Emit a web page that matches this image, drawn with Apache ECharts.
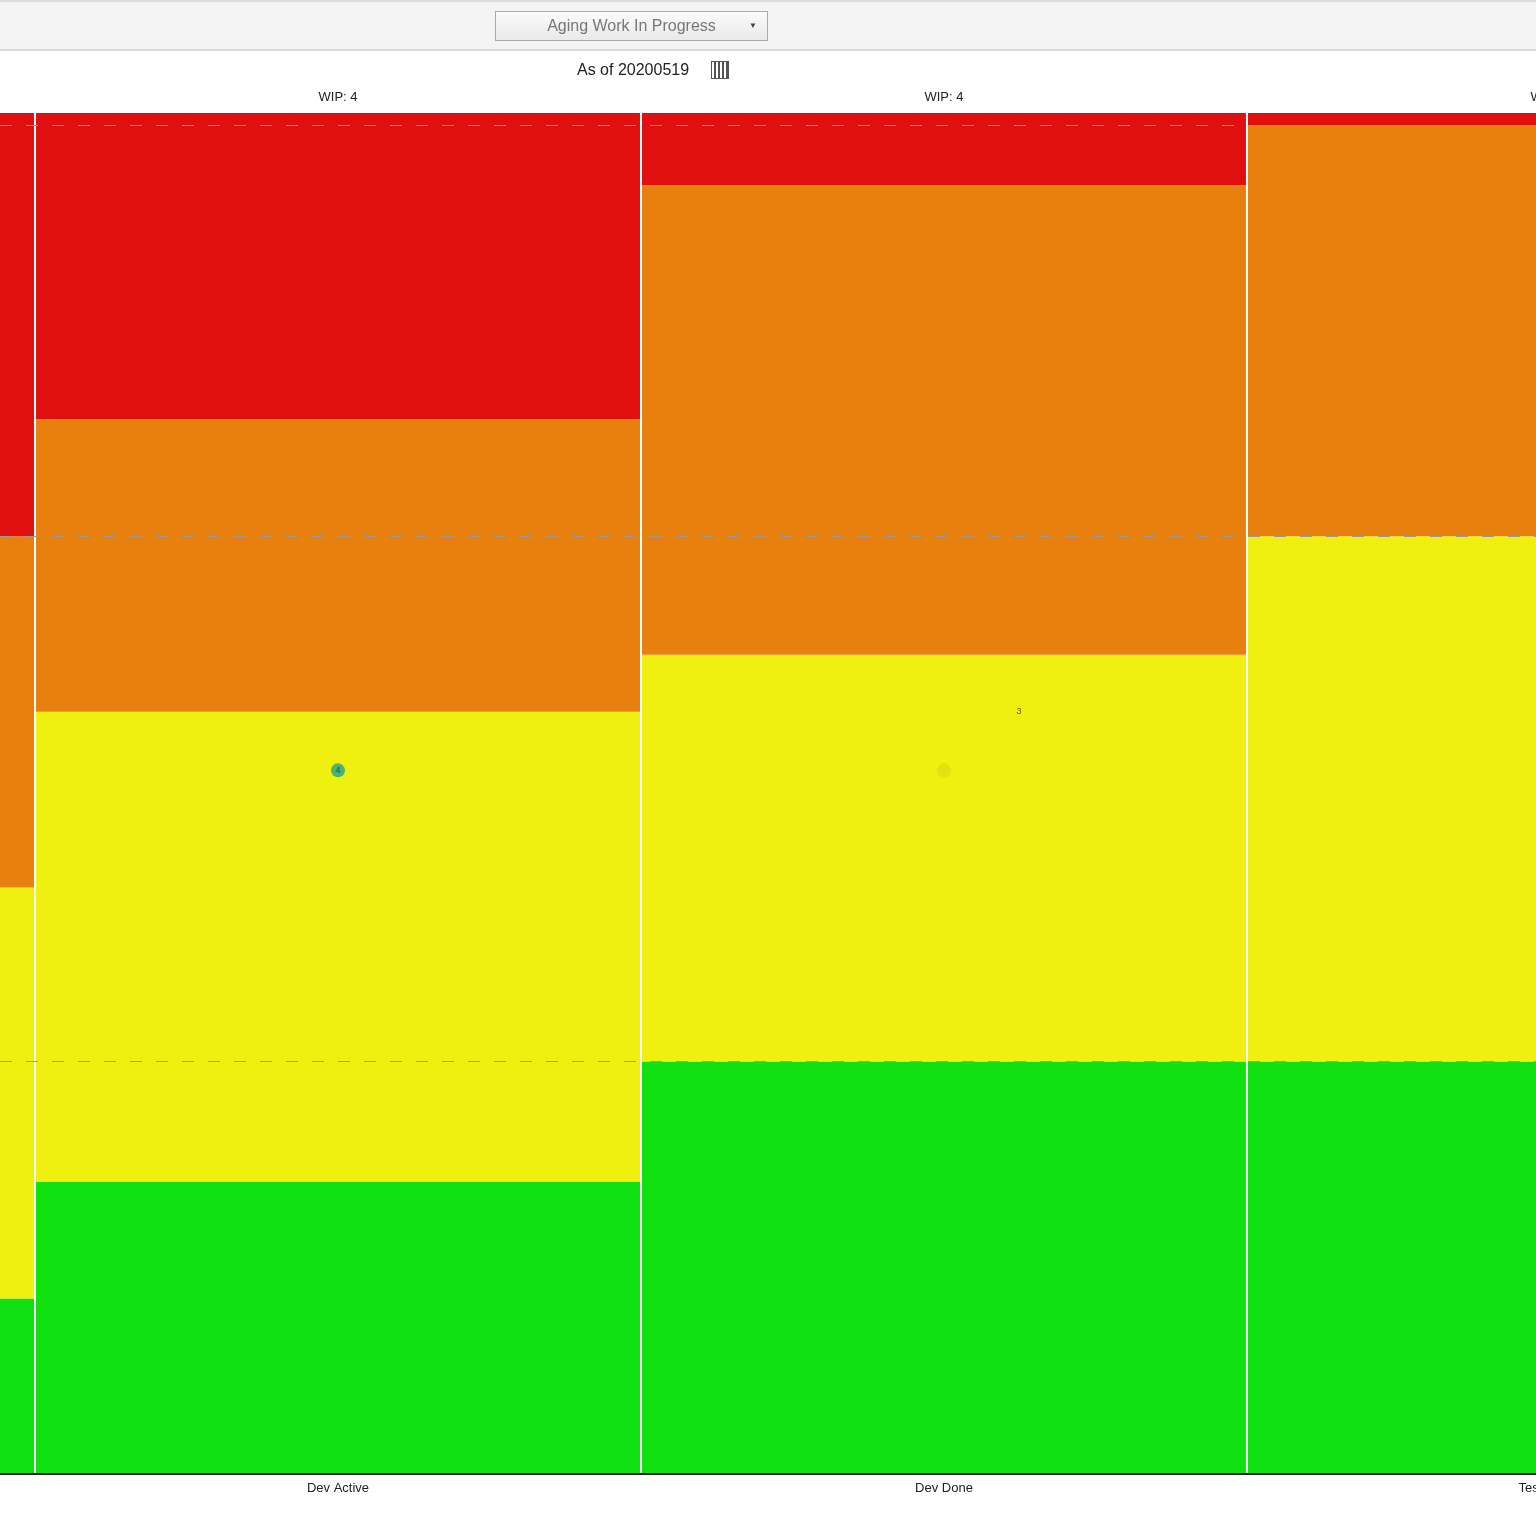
<!DOCTYPE html>
<html><head><meta charset="utf-8">
<script src="https://cdn.jsdelivr.net/npm/echarts@6/dist/echarts.min.js"></script>
<style>
body{margin:0;background:#fff;font-family:Arial,"Liberation Sans",sans-serif;}
#bar{position:absolute;left:0;top:0;width:1536px;height:47px;background:#f4f4f4;border-top:2px solid #ddd;border-bottom:2px solid #d8d8d8;}
#btn{position:absolute;left:495px;top:9px;width:271px;height:28px;border:1px solid #aaa;background:linear-gradient(#fbfbfb,#e9e9e9);color:#777;font-size:16px;line-height:28px;text-align:center;}
#btn span{position:absolute;right:10px;font-size:8px;color:#444;}
#asof{position:absolute;left:577px;top:61px;font-size:16px;color:#222;}
#cal{position:absolute;left:711px;top:61px;width:18px;height:18px;border:1px solid #555;box-sizing:border-box;background:repeating-linear-gradient(90deg,#fff 0 2px,#555 2px 4px);}
#line31{position:absolute;left:0;top:0;width:1536px;height:1536px;}
</style></head>
<body>
<div id="line31"></div>
<div id="bar"><div id="btn">Aging Work In Progress<span>▼</span></div></div>
<div id="asof">As of 20200519</div><div id="cal"></div>
<script>
// workflow columns (first and last are only partly visible)
var categories = ['Analysis', 'Dev Active', 'Dev Done', 'Test Active'];
var wip = [4, 4, 4, 4];
// top of each zone per column (percent of axis height)
var greenTop  = [12.9, 21.5, 30.3, 30.3];
var yellowTop = [43.1, 56.0, 60.2, 68.9];
var orangeTop = [68.9, 77.5, 94.7, 99.1];
var redTop    = [100, 100, 100, 100];
// percentile lines
var percentiles = [30.3, 68.9, 99.1];
// work items: [column position, age, count label, colour]
var items = [[1, 51.7, '4', '#1fa58a'], [2, 51.7, '', '#dede10'], [2.124, 56.0, '3', 'none']];

var zoneColors = ['#10e010', '#f0f010', '#e8800f', '#e01010'];
var zones = [];
categories.forEach(function (c, i) {
  var tops = [greenTop[i], yellowTop[i], orangeTop[i], redTop[i]];
  var lo = 0;
  tops.forEach(function (t, k) { zones.push([i, lo, t, k]); lo = t; });
});

var myChart31 = echarts.init(document.getElementById('line31'));
var option31 = {
  animation: false,
  grid: {left: 0, right: 0, top: 113, bottom: 62},
  xAxis: {type: 'value', min: 0.4422, max: 2.977, show: false},
  yAxis: {type: 'value', min: 0, max: 100, show: false},
  series: [{
    type: 'custom',
    data: zones,
    renderItem: function (params, api) {
      var i = api.value(0);
      var a = api.coord([i - 0.5, api.value(2)]);
      var b = api.coord([i + 0.5, api.value(1)]);
      return {type: 'rect', shape: {x: a[0] + 1, y: a[1], width: b[0] - a[0] - 2, height: b[1] - a[1]},
        style: {fill: zoneColors[api.value(3)]}};
    },
    markLine: {
      silent: true, symbol: 'none', label: {show: false},
      lineStyle: {color: '#999', type: [12, 14], width: 1.2},
      data: percentiles.map(function (p) { return {yAxis: p}; })
    }
  }, {
    type: 'custom',
    data: categories.map(function (c, i) { return [i]; }),
    renderItem: function (params, api) {
      var i = api.value(0);
      var top = api.coord([i, 100]);
      var bot = api.coord([i, 0]);
      return {type: 'group', children: [
        {type: 'text', x: top[0], y: top[1] - 16, style: {text: 'WIP: ' + wip[i], fill: '#222', font: '13px Arial', align: 'center', verticalAlign: 'middle'}},
        {type: 'text', x: bot[0], y: bot[1] + 14, style: {text: categories[i], fill: '#222', font: '13px Arial', align: 'center', verticalAlign: 'middle'}}
      ]};
    }
  }, {
    type: 'scatter',
    data: items.map(function (d) { return {value: [d[0], d[1]], itemStyle: {color: d[3]}, label: {show: true, formatter: d[2]}}; }),
    symbolSize: 14,
    label: {position: 'inside', fontSize: 9, color: '#333'}
  }, {
    type: 'line',
    data: [[0.4422, 0], [2.977, 0]],
    symbol: 'none', silent: true,
    lineStyle: {color: '#222', width: 2}
  }]
};
myChart31.setOption(option31);
</script>
</body></html>
